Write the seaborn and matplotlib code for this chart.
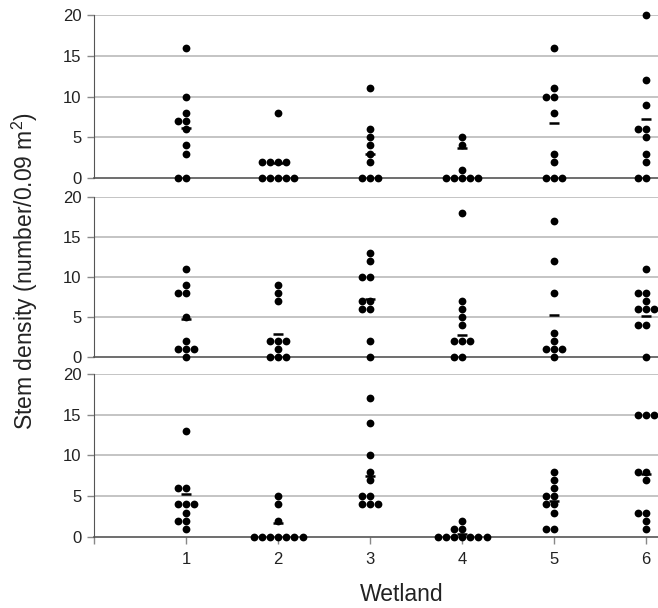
import matplotlib
matplotlib.use("Agg")
import matplotlib.pyplot as plt
import numpy as np
import pandas as pd
import seaborn as sns

sns.set_style("white")
plt.rcParams['font.family'] = ['Liberation Sans', 'DejaVu Sans']
plt.rcParams['mathtext.fontset'] = 'custom'
plt.rcParams['mathtext.rm'] = 'Liberation Sans'
plt.rcParams['mathtext.default'] = 'regular'

wetlands = [1, 2, 3, 4, 5, 6]

# stem counts per quadrat, one list per wetland
top_values = [
    [16, 10, 8, 7, 7, 6, 4, 3, 0, 0],
    [8, 2, 2, 2, 2, 0, 0, 0, 0, 0],
    [11, 6, 5, 4, 3, 2, 0, 0, 0],
    [5, 4, 1, 0, 0, 0, 0, 0],
    [16, 11, 10, 10, 8, 3, 2, 0, 0, 0],
    [20, 12, 9, 6, 6, 5, 3, 2, 0, 0],
]
mid_values = [
    [11, 9, 8, 8, 5, 2, 1, 1, 1, 0],
    [9, 8, 7, 2, 2, 2, 1, 0, 0, 0],
    [13, 12, 10, 10, 7, 7, 6, 6, 2, 0],
    [18, 7, 6, 5, 4, 2, 2, 2, 0, 0],
    [17, 12, 8, 3, 2, 1, 1, 1, 0],
    [11, 8, 8, 7, 6, 6, 6, 4, 4, 0],
]
bot_values = [
    [13, 6, 6, 4, 4, 4, 3, 2, 2, 1],
    [5, 4, 2, 0, 0, 0, 0, 0, 0, 0],
    [17, 14, 10, 8, 7, 5, 5, 4, 4, 4],
    [2, 1, 1, 0, 0, 0, 0, 0, 0, 0],
    [8, 7, 6, 5, 5, 4, 4, 3, 1, 1],
    [15, 15, 15, 8, 8, 7, 3, 3, 2, 1],
]

# mean markers (short dashes)
top_means = [6.1, 1.9, 3.0, 3.7, 6.8, 7.3]
mid_means = [4.7, 2.9, 7.2, 2.8, 5.3, 5.1]
bot_means = [5.3, 1.7, 7.5, 0.4, 4.4, 7.7]

y_ticks = [0, 5, 10, 15, 20]
x_tick_labels = ['', '1', '2', '3', '4', '5', '6']

GRID_COLOR = '#b4b4b4'
AXIS_COLOR = '#555555'


def to_frame(values):
    rows = []
    for w, vals in zip(wetlands, values):
        for v in vals:
            rows.append([w, v])
    return pd.DataFrame(rows, columns=['Wetland', 'Density'])


fig = plt.figure(figsize=(6.58, 6.08), dpi=100)
panel_boxes = [
    [0.1429, 0.7072, 0.8571, 0.2681],
    [0.1429, 0.4128, 0.8571, 0.2632],
    [0.1429, 0.1168, 0.8571, 0.2681],
]
panels = [(top_values, top_means), (mid_values, mid_means), (bot_values, bot_means)]

for i, (box, (values, means)) in enumerate(zip(panel_boxes, panels)):
    ax = fig.add_axes(box)
    df = to_frame(values)
    for t in y_ticks[1:]:
        ax.axhline(t, color=GRID_COLOR, lw=1.1, zorder=0)
    sns.swarmplot(data=df, x='Wetland', y='Density', native_scale=True, orient='x',
                  color='black', size=5.6, linewidth=0, ax=ax, zorder=3)
    for c in ax.collections:
        c.set_clip_on(False)
    ax.plot(wetlands, means, linestyle='none', marker='_', markersize=6.5,
            markeredgewidth=1.8, color='black', zorder=4, clip_on=False)

    ax.set_xlim(0, 6.13)
    ax.set_ylim(0, 20)
    ax.set_yticks(y_ticks)
    ax.set_yticklabels([str(t) for t in y_ticks], fontsize=12, color='#222222')
    ax.tick_params(axis='y', direction='out', length=5, width=1, color='#888888', pad=4, left=True)
    ax.set_xlabel('')
    ax.set_ylabel('')
    sns.despine(ax=ax, top=True, right=True)
    ax.spines['left'].set_color(AXIS_COLOR)
    ax.spines['bottom'].set_color(AXIS_COLOR)
    ax.spines['bottom'].set_linewidth(1.2)
    ax.set_xticks(range(0, 7))
    if i == 2:
        ax.set_xticklabels(x_tick_labels, fontsize=12, color='#222222')
        ax.tick_params(axis='x', direction='out', length=5, width=1, color='#888888', pad=6, bottom=True)
    else:
        ax.set_xticklabels([])
        ax.tick_params(axis='x', length=0)

fig.text(0.038, 0.555, 'Stem density (number/0.09 m$^{2}$)', rotation=90,
         ha='center', va='center', fontsize=16.5, color='#222222')
fig.text(0.611, 0.022, 'Wetland', ha='center', va='center', fontsize=16.5, color='#222222')

fig.savefig('out.png', dpi=100)
